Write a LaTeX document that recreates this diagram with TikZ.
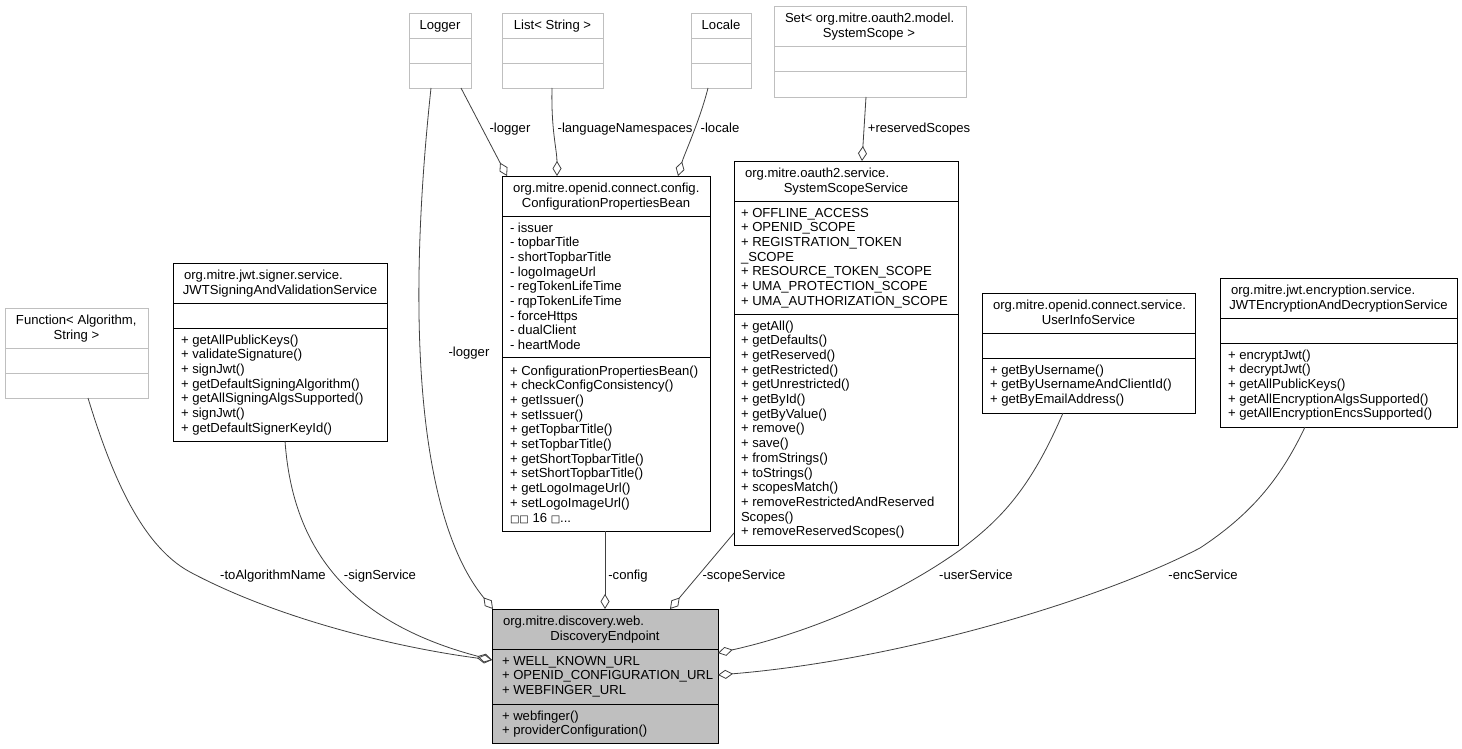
\documentclass[tikz,border=0pt]{standalone}
\usepackage{fontspec}
\setmainfont{Liberation Sans}
\newfontfamily\djv{DejaVu Sans}
\usetikzlibrary{arrows.meta}
\definecolor{grey75}{HTML}{BFBFBF}
\definecolor{edgec}{HTML}{404040}
\newcommand\dxfont{\fontsize{13.1pt}{14.7pt}\selectfont}
\newcommand\dxs{\rule{0pt}{10pt}}
\newcommand\sq{{\djv\fontsize{10pt}{14.7pt}\selectfont □}}
\begin{document}
\begin{tikzpicture}[x=1pt,y=-1pt,
  box/.style={draw=black, line width=0.8pt, fill=white, inner sep=0pt, outer sep=0pt, anchor=north west},
  gbox/.style={box, draw=grey75},
  dbox/.style={box, fill=grey75},
  sep/.style={line width=0.8pt, draw=black},
  gsep/.style={line width=0.8pt, draw=grey75},
  txt/.style={inner sep=0pt, outer sep=0pt, font=\dxfont, align=left, anchor=north west},
  ttl/.style={inner sep=0pt, outer sep=0pt, font=\dxfont},
  lbl/.style={inner sep=0pt, outer sep=0pt, font=\dxfont, anchor=base},
  assoc/.style={draw=edgec, line width=0.8pt, -{Diamond[open, length=15pt, width=9pt]}}
]
\fill[white] (0,0) rectangle (1462,749);
\useasboundingbox (0,0) rectangle (1462,749);

% ---------- Logger
\node[gbox, minimum width=62pt, minimum height=75pt] (lg) at (409,13) {};
\draw[gsep] (409,38) -- (471,38) (409,63) -- (471,63);
\node[ttl, anchor=base] (lgt) at (440,30) {Logger};

% ---------- List< String >
\node[gbox, minimum width=101pt, minimum height=75pt] (ls) at (502,13) {};
\draw[gsep] (502,38) -- (603,38) (502,63) -- (603,63);
\node[ttl, anchor=base] (lst) at (552.5,30) {List< String >};

% ---------- Locale
\node[gbox, minimum width=60pt, minimum height=75pt] (lc) at (691,13) {};
\draw[gsep] (691,38) -- (751,38) (691,63) -- (751,63);
\node[ttl, anchor=base] (lct) at (721,30) {Locale};

% ---------- Set< SystemScope >
\node[gbox, minimum width=192pt, minimum height=91pt] (st) at (774,6) {};
\draw[gsep] (774,46) -- (966,46) (774,71) -- (966,71);
\node[ttl, anchor=base west] (stt1) at (785,22.5) {Set< org.mitre.oauth2.model.};
\node[ttl, anchor=base] (stt2) at (869,37.2) {SystemScope >};

% ---------- ConfigurationPropertiesBean
\node[box, minimum width=208pt, minimum height=355pt] (cpb) at (502,176) {};
\draw[sep] (502,216) -- (710,216) (502,357) -- (710,357);
\node[ttl, anchor=base west] (cpbt1) at (513,192.5) {org.mitre.openid.connect.config.};
\node[ttl, anchor=base] (cpbt2) at (606,207.2) {ConfigurationPropertiesBean};
\node[txt] (cpba) at (510,222) {\dxs- issuer\\- topbarTitle\\- shortTopbarTitle\\- logoImageUrl\\- regTokenLifeTime\\- rqpTokenLifeTime\\- forceHttps\\- dualClient\\- heartMode};
\node[txt] (cpbm) at (510,365) {\dxs+ ConfigurationPropertiesBean()\\+ checkConfigConsistency()\\+ getIssuer()\\+ setIssuer()\\+ getTopbarTitle()\\+ setTopbarTitle()\\+ getShortTopbarTitle()\\+ setShortTopbarTitle()\\+ getLogoImageUrl()\\+ setLogoImageUrl()\\\sq\sq{} 16 \sq...};

% ---------- SystemScopeService
\node[box, minimum width=224pt, minimum height=384pt] (sss) at (734,161) {};
\draw[sep] (734,201) -- (958,201) (734,314) -- (958,314);
\node[ttl, anchor=base west] (ssst1) at (745,177.5) {org.mitre.oauth2.service.};
\node[ttl, anchor=base] (ssst2) at (846,192.2) {SystemScopeService};
\node[txt] (sssa) at (741,207) {\dxs+ OFFLINE\_ACCESS\\+ OPENID\_SCOPE\\+ REGISTRATION\_TOKEN\\\_SCOPE\\+ RESOURCE\_TOKEN\_SCOPE\\+ UMA\_PROTECTION\_SCOPE\\+ UMA\_AUTHORIZATION\_SCOPE};
\node[txt] (sssm) at (741,320) {\dxs+ getAll()\\+ getDefaults()\\+ getReserved()\\+ getRestricted()\\+ getUnrestricted()\\+ getById()\\+ getByValue()\\+ remove()\\+ save()\\+ fromStrings()\\+ toStrings()\\+ scopesMatch()\\+ removeRestrictedAndReserved\\Scopes()\\+ removeReservedScopes()};

% ---------- Function< Algorithm, String >
\node[gbox, minimum width=143pt, minimum height=90pt] (fn) at (5,308) {};
\draw[gsep] (5,348) -- (148,348) (5,373) -- (148,373);
\node[ttl, anchor=base west] (fnt1) at (16,324.5) {Function< Algorithm,};
\node[ttl, anchor=base] (fnt2) at (76.5,339.2) {String >};

% ---------- JWTSigningAndValidationService
\node[box, minimum width=214pt, minimum height=178pt] (js) at (173,263) {};
\draw[sep] (173,303) -- (387,303) (173,328) -- (387,328);
\node[ttl, anchor=base west] (jst1) at (184,279.5) {org.mitre.jwt.signer.service.};
\node[ttl, anchor=base] (jst2) at (280,294.2) {JWTSigningAndValidationService};
\node[txt] (jsm) at (181,334) {\dxs+ getAllPublicKeys()\\+ validateSignature()\\+ signJwt()\\+ getDefaultSigningAlgorithm()\\+ getAllSigningAlgsSupported()\\+ signJwt()\\+ getDefaultSignerKeyId()};

% ---------- UserInfoService
\node[box, minimum width=213pt, minimum height=120pt] (us) at (982,293) {};
\draw[sep] (982,333) -- (1195,333) (982,358) -- (1195,358);
\node[ttl, anchor=base west] (ust1) at (993,309.5) {org.mitre.openid.connect.service.};
\node[ttl, anchor=base] (ust2) at (1088.5,324.2) {UserInfoService};
\node[txt] (usm) at (990,364) {\dxs+ getByUsername()\\+ getByUsernameAndClientId()\\+ getByEmailAddress()};

% ---------- JWTEncryptionAndDecryptionService
\node[box, minimum width=237pt, minimum height=149pt] (je) at (1220,278) {};
\draw[sep] (1220,318) -- (1457,318) (1220,343) -- (1457,343);
\node[ttl, anchor=base west] (jet1) at (1231,294.5) {org.mitre.jwt.encryption.service.};
\node[ttl, anchor=base] (jet2) at (1338.5,309.2) {JWTEncryptionAndDecryptionService};
\node[txt] (jem) at (1228,349) {\dxs+ encryptJwt()\\+ decryptJwt()\\+ getAllPublicKeys()\\+ getAllEncryptionAlgsSupported()\\+ getAllEncryptionEncsSupported()};

% ---------- DiscoveryEndpoint
\node[dbox, minimum width=226pt, minimum height=134pt] (de) at (492,609) {};
\draw[sep] (492,649) -- (718,649) (492,704) -- (718,704);
\node[ttl, anchor=base west] (det1) at (503,625.5) {org.mitre.discovery.web.};
\node[ttl, anchor=base] (det2) at (605,640.2) {DiscoveryEndpoint};
\node[txt] (dea) at (502,655) {\dxs+ WELL\_KNOWN\_URL\\+ OPENID\_CONFIGURATION\_URL\\+ WEBFINGER\_URL};
\node[txt] (dem) at (502,710) {\dxs+ webfinger()\\+ providerConfiguration()};

% ---------- connectors
\draw[assoc] ([xshift=52pt]lg.south west) -- ([xshift=5pt]cpb.north west);
\draw[assoc] ([xshift=50pt]ls.south west) .. controls (551,130) and (557,150) .. ([xshift=55pt]cpb.north west);
\draw[assoc] ([xshift=17pt]lc.south west) .. controls (700,120) and (684,155) .. ([xshift=-32pt]cpb.north east);
\draw[assoc] ([xshift=92pt]st.south west) -- ([xshift=128pt]sss.north west);
\draw[assoc] ([xshift=22pt]lg.south west) .. controls (405,330) and (420,520) .. ([xshift=1pt]de.north west);
\draw[assoc] ([xshift=83pt]fn.south west) .. controls (110,470) and (140,545) .. (190,572) .. controls (280,620) and (400,648) .. ([yshift=-51pt]de.north west);
\draw[assoc] ([xshift=112pt]js.south west) .. controls (292,540) and (340,620) .. ([yshift=-51pt]de.north west);
\draw[assoc] ([xshift=103pt]cpb.south west) -- ([xshift=113pt]de.north west);
\draw[assoc] ([yshift=-372pt]sss.north west) -- ([xshift=178pt]de.north west);
\draw[assoc] ([xshift=81pt]us.south west) .. controls (1030,490) and (1000,520) .. (960,550) .. controls (890,600) and (800,635) .. ([yshift=-44pt]de.north east);
\draw[assoc] ([xshift=85pt]je.south west) .. controls (1280,480) and (1250,515) .. (1200,548) .. controls (1100,600) and (900,660) .. ([yshift=-66pt]de.north east);

% ---------- labels
\node[lbl] (l1) at (510,132.5) {-logger};
\node[lbl] (l2) at (625,132.5) {-languageNamespaces};
\node[lbl] (l3) at (720,132.5) {-locale};
\node[lbl] (l4) at (919,132.5) {+reservedScopes};
\node[lbl] (l5) at (469,356.5) {-logger};
\node[lbl] (l6) at (273,579.5) {-toAlgorithmName};
\node[lbl] (l7) at (380,579.5) {-signService};
\node[lbl] (l8) at (628,579.5) {-config};
\node[lbl] (l9) at (744,579.5) {-scopeService};
\node[lbl] (l10) at (976,579.5) {-userService};
\node[lbl] (l11) at (1203,579.5) {-encService};
\end{tikzpicture}
\end{document}
